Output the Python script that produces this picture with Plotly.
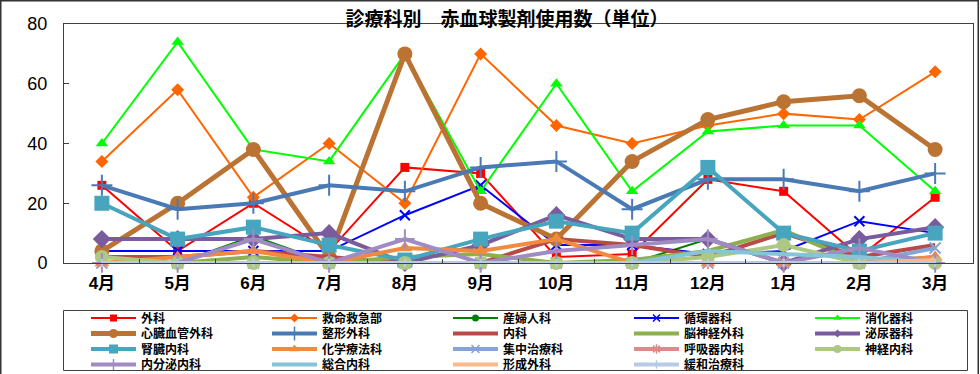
import plotly.graph_objects as go

# ---------------- data ----------------
months = ["4月", "5月", "6月", "7月", "8月", "9月", "10月", "11月", "12月", "1月", "2月", "3月"]

names = ["外科", "救命救急部", "産婦人科", "循環器科", "消化器科",
         "心臓血管外科", "整形外科", "内科", "脳神経外科", "泌尿器科",
         "腎臓内科", "化学療法科", "集中治療科", "呼吸器内科", "神経内科",
         "内分泌内科", "総合内科", "形成外科", "緩和治療科"]

geka = [26, 4, 20, 4, 32, 30, 2, 3, 28, 24, 2, 22]
kyumei = [34, 58, 22, 40, 20, 70, 46, 40, 46, 50, 48, 64]
sanfujin = [2, 0, 9, 0, 0, 0, 0, 0, 8, 0, 0, 0]
junkanki = [4, 4, 4, 4, 16, 26, 6, 6, 3, 4, 14, 10]
shokaki = [40, 74, 38, 34, 70, 24, 60, 24, 44, 46, 46, 24]
shinzo = [4, 20, 38, 2, 70, 20, 8, 34, 48, 54, 56, 38]
seikei = [26, 18, 20, 26, 24, 32, 34, 18, 28, 28, 24, 30]
naika = [2, 2, 4, 2, 0, 0, 8, 6, 2, 10, 2, 6]
noshinkei = [0, 0, 2, 0, 2, 3, 0, 1, 4, 11, 0, 2]
hinyoki = [8, 8, 8, 10, 0, 6, 16, 8, 8, 0, 8, 12]
jinzo = [20, 8, 12, 6, 1, 8, 14, 10, 32, 10, 4, 10]
kagaku = [0, 2, 4, 0, 5, 4, 8, 0, 0, 0, 0, 2]
shuchu = [0, 0, 0, 0, 0, 0, 0, 0, 0, 0, 0, 5]
kokyuki = [0, 0, 0, 0, 0, 0, 0, 0, 0, 0, 0, 0]
shinkei = [2, 0, 0, 0, 0, 0, 0, 0, 2, 6, 0, 0]
naibunpi = [0, 0, 8, 0, 8, 0, 4, 6, 8, 0, 5, 0]
sogo = [0, 0, 0, 0, 0, 0, 0, 0, 4, 3, 2, 0]
keisei = [0, 0, 0, 0, 0, 0, 0, 0, 0, 0, 0, 1]
kanwa = [0, 0, 0, 0, 0, 0, 0, 0, 0, 0, 0, 0]

series_values = [geka, kyumei, sanfujin, junkanki, shokaki,
                 shinzo, seikei, naika, noshinkei, hinyoki,
                 jinzo, kagaku, shuchu, kokyuki, shinkei,
                 naibunpi, sogo, keisei, kanwa]

y_ticks = [0, 20, 40, 60, 80]
title_text = "診療科別　赤血球製剤使用数（単位）"

# ---------------- styles ----------------
# (color, line width, marker symbol, marker size, marker line width, legend marker size)
styles = [
    ("#FF0000", 2, "square", 9, 0, 7),
    ("#FF6600", 2, "diamond", 10, 0, 7),
    ("#008000", 2, "circle", 8, 0, 7),
    ("#0000FF", 2, "x-thin", 10, 2, 7),
    ("#00FF00", 2, "triangle-up", 11, 0, 7),
    ("#BB7333", 5, "circle", 15, 0, 9),
    ("#4A7AB5", 4, "cross-thin", 15, 2, 10),
    ("#B84A47", 4, None, 0, 0, 0),
    ("#8DAF4E", 4, None, 0, 0, 0),
    ("#7A5C9E", 4, "diamond", 14, 0, 6),
    ("#47A5BE", 4, "square", 15, 0, 9),
    ("#F08A3E", 4, "triangle-up", 13, 0, 9),
    ("#86A4D6", 4, "x-thin", 11, 2, 8),
    ("#D98C8A", 4, "asterisk", 10, 2, 8),
    ("#AEC884", 4, "circle", 14, 0, 8),
    ("#A08CC3", 4, "cross-thin", 14, 2, 8),
    ("#86C4D8", 4, None, 0, 0, 0),
    ("#F9B98A", 4, None, 0, 0, 0),
    ("#B7CBE4", 4, "line-ns", 6, 2, 6),
]

W, H = 980, 374
L, R, T, B = 64, 7, 24, 111
PW, PH = W - L - R, H - T - B


def px_x(p):
    return (p - L) / PW


def px_y(p):
    return (H - B - p) / PH


fig = go.Figure()

# data traces
for name, vals, st in zip(names, series_values, styles):
    color, lw, sym, ms, mlw, _ = st
    mode = "lines+markers" if sym else "lines"
    fig.add_trace(go.Scatter(
        x=months, y=vals, name=name, mode=mode,
        line=dict(color=color, width=lw),
        marker=dict(symbol=sym or "circle", size=ms, color=color,
                    line=dict(color=color, width=mlw)),
        cliponaxis=False, showlegend=False, hoverinfo="x+y+name",
    ))

# legend entries (no data drawn)
legend_ids = ["legend", "legend2", "legend3", "legend4"]
for i, (name, st) in enumerate(zip(names, styles)):
    color, lw, sym, ms, mlw, lms = st
    mode = "lines+markers" if sym else "lines"
    fig.add_trace(go.Scatter(
        x=[None], y=[None], name=name, mode=mode,
        line=dict(color=color, width=lw),
        marker=dict(symbol=sym or "circle", size=max(lms, 2), color=color,
                    line=dict(color=color, width=min(mlw, 1.5))),
        legend=legend_ids[i // 5], showlegend=True, hoverinfo="skip",
    ))

row_centers = [318, 333.5, 349, 364.5]
ITEMW = 45
legend_font = dict(family="Noto Sans CJK JP", size=12, color="#000000", weight="bold")
layout_legends = {}
for r, lid in enumerate(legend_ids):
    layout_legends[lid] = dict(
        orientation="h", xref="container", yref="container",
        x=(141 - (ITEMW + 10)) / W, xanchor="left",
        y=1 - row_centers[r] / H, yanchor="middle",
        entrywidth=121, entrywidthmode="pixels", itemwidth=ITEMW,
        font=legend_font, bgcolor="rgba(0,0,0,0)", borderwidth=0,
        traceorder="normal", itemclick=False, itemdoubleclick=False,
    )

fig.update_layout(
    width=W, height=H,
    margin=dict(l=L, r=R, t=T, b=B, pad=0, autoexpand=False),
    paper_bgcolor="#FFFFFF", plot_bgcolor="#FFFFFF",
    title=dict(text=title_text, xref="container", yref="container",
               x=507 / W, xanchor="center", y=1 - 19 / H, yanchor="middle",
               font=dict(family="Noto Sans CJK JP", size=19, color="#000000", weight="bold")),
    xaxis=dict(type="category", categoryorder="array", categoryarray=months,
               range=[-0.5, len(months) - 0.5],
               showline=True, mirror=True, linecolor="#404040", linewidth=1,
               ticks="inside", tickson="boundaries", ticklen=4, tickcolor="#404040",
               showgrid=False, zeroline=False, ticklabelstandoff=5,
               tickfont=dict(family="Liberation Sans, Noto Sans CJK JP", size=17,
                             color="#000000", weight="bold")),
    yaxis=dict(range=[0, 80], tickvals=y_ticks,
               showline=True, mirror=True, linecolor="#404040", linewidth=1,
               ticks="inside", ticklen=5, tickcolor="#404040",
               showgrid=False, zeroline=False, ticklabelstandoff=12,
               tickfont=dict(family="Liberation Sans", size=18, color="#000000")),
    shapes=[
        dict(type="rect", xref="paper", yref="paper",
             x0=px_x(0.75), x1=px_x(978.25), y0=px_y(376), y1=px_y(0.75),
             line=dict(color="#333333", width=1.5), fillcolor="rgba(0,0,0,0)", layer="below"),
        dict(type="rect", xref="paper", yref="paper",
             x0=px_x(63.5), x1=px_x(967.5), y0=px_y(370.5), y1=px_y(310.5),
             line=dict(color="#404040", width=1), fillcolor="rgba(0,0,0,0)", layer="below"),
    ],
    showlegend=True,
    **layout_legends,
)

fig.write_html("out.html", config={"displayModeBar": False},
               post_script="document.body.style.margin='0';")
